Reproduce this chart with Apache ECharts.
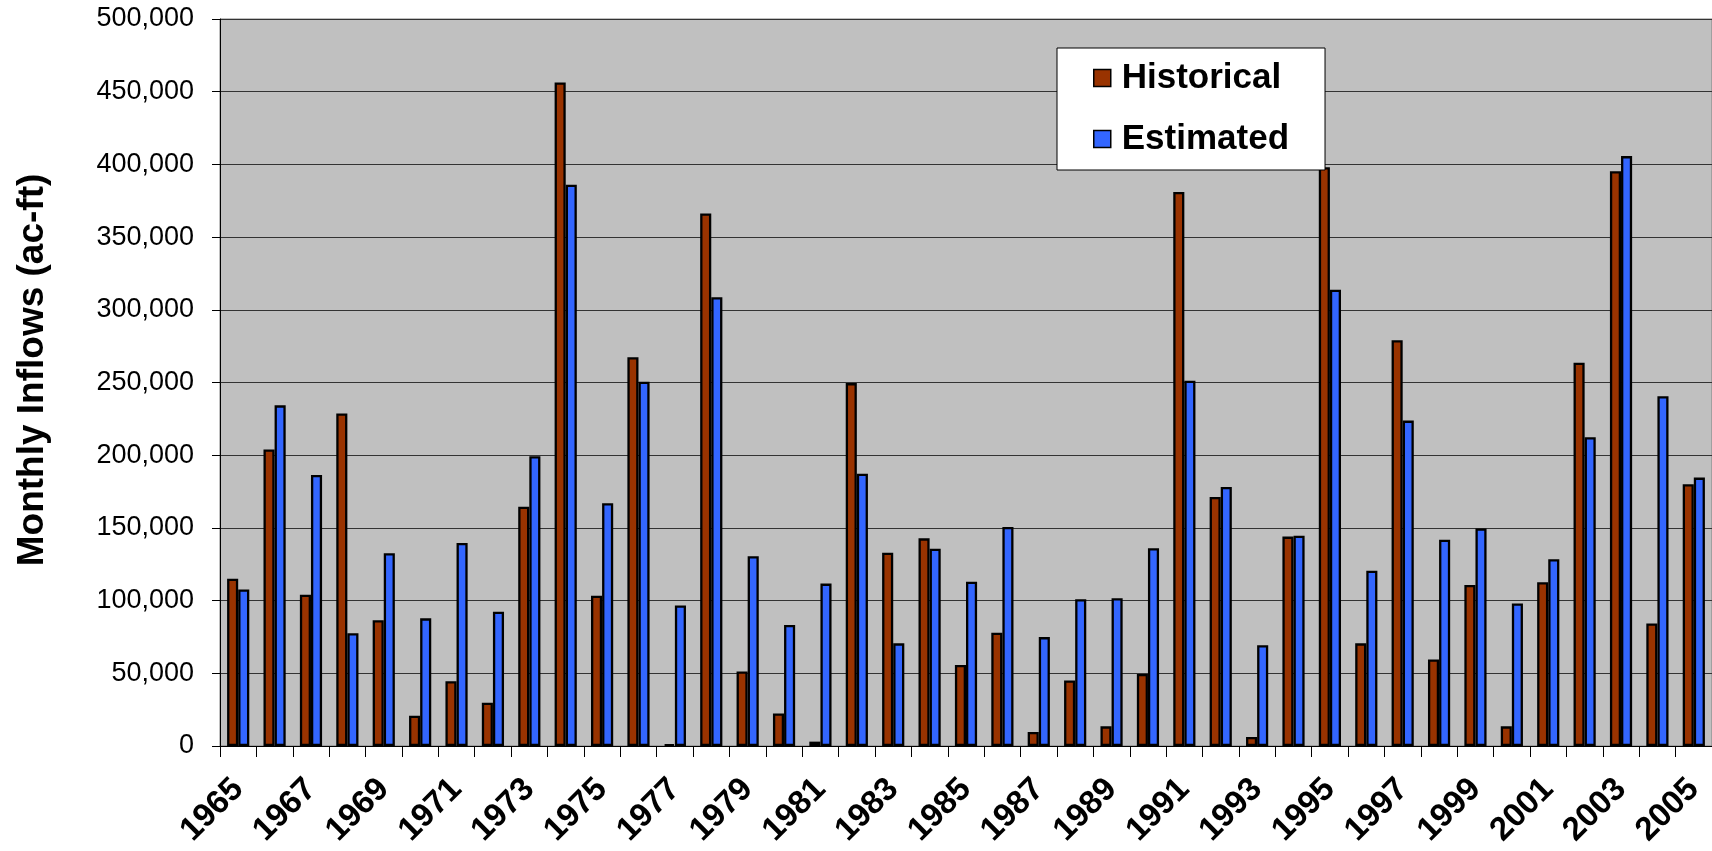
<!DOCTYPE html>
<html>
<head>
<meta charset="utf-8">
<script src="https://cdn.jsdelivr.net/npm/echarts@6/dist/echarts.min.js"></script>
<style>
html,body{margin:0;padding:0;background:#fff;}
#chart{width:1712px;height:851px;}
</style>
</head>
<body>
<div id="chart"></div>
<script>
var years = ['1965','1966','1967','1968','1969','1970','1971','1972','1973','1974','1975','1976','1977','1978','1979','1980','1981','1982','1983','1984','1985','1986','1987','1988','1989','1990','1991','1992','1993','1994','1995','1996','1997','1998','1999','2000','2001','2002','2003','2004','2005'];
var historical = [115100,203900,104100,228700,86500,20800,44500,29700,164600,456300,103400,267400,1100,366300,51300,22400,3000,249600,132900,142800,55700,77900,9600,45100,13500,49500,381000,171300,6200,144000,398000,70600,279100,59500,110800,13500,112700,263600,395300,84200,180000];
var estimated = [107700,234300,186400,77600,132600,87800,139700,92400,199300,386000,167000,250500,96700,308600,130500,83200,111700,187300,70600,135700,113000,150700,74900,101000,101600,136000,251200,178100,69300,144600,313800,120600,223800,141800,149600,98000,128400,212400,405700,240500,184600];
var seriesNames = ['Historical','Estimated'];
var yTitle = 'Monthly Inflows (ac-ft)';

var FONT = "'Liberation Sans', Arial, sans-serif";
var chart = echarts.init(document.getElementById('chart'));
chart.setOption({
  animation: false,
  backgroundColor: '#ffffff',
  grid: {left: 220, right: 0, top: 19, bottom: 105, containLabel: false,
         show: true, backgroundColor: '#C0C0C0', borderColor: '#808080', borderWidth: 1},
  legend: {
    orient: 'vertical', left: 1057, top: 48,
    backgroundColor: '#ffffff', borderColor: '#000000', borderWidth: 1,
    padding: [10, 36, 11, 36], itemGap: 21, itemWidth: 17, itemHeight: 17,
    icon: 'rect',
    itemStyle: {borderColor: '#000', borderWidth: 1.5},
    textStyle: {fontFamily: FONT, fontWeight: 'bold', fontSize: 35, color: '#000', lineHeight: 40, padding: [0,0,0,6]},
    data: seriesNames
  },
  xAxis: {
    type: 'category', data: years,
    axisLine: {lineStyle: {color: '#000', width: 1}},
    axisTick: {show: true, interval: 0, length: 11, lineStyle: {color: '#000'}},
    axisLabel: {interval: 1, rotate: 45, margin: 38,
      fontFamily: FONT, fontWeight: 'bold', fontSize: 33, color: '#000'},
    splitLine: {show: false}
  },
  yAxis: {
    type: 'value', min: 0, max: 500000, interval: 50000,
    axisLine: {show: true, lineStyle: {color: '#000', width: 1}},
    axisTick: {show: true, length: 8, lineStyle: {color: '#000'}},
    axisLabel: {margin: 26, fontFamily: FONT, fontSize: 27, color: '#000',
      formatter: function (v) { return v.toLocaleString('en-US'); }},
    splitLine: {show: true, lineStyle: {color: '#333333', width: 1}}
  },
  graphic: [{
    type: 'text',
    x: 33, y: 370,
    rotation: Math.PI / 2,
    style: {text: yTitle, font: "bold 37px 'Liberation Sans', Arial, sans-serif", fill: '#000',
            textAlign: 'center', textVerticalAlign: 'middle'}
  }],
  series: [
    {name: seriesNames[0], type: 'bar', data: historical, barGap: '0%', barCategoryGap: '39%',
     itemStyle: {color: '#993300', borderColor: '#000', borderWidth: 2.3}},
    {name: seriesNames[1], type: 'bar', data: estimated, barGap: '0%', barCategoryGap: '39%',
     itemStyle: {color: '#3366FF', borderColor: '#000', borderWidth: 2.3}}
  ]
});
</script>
</body>
</html>
